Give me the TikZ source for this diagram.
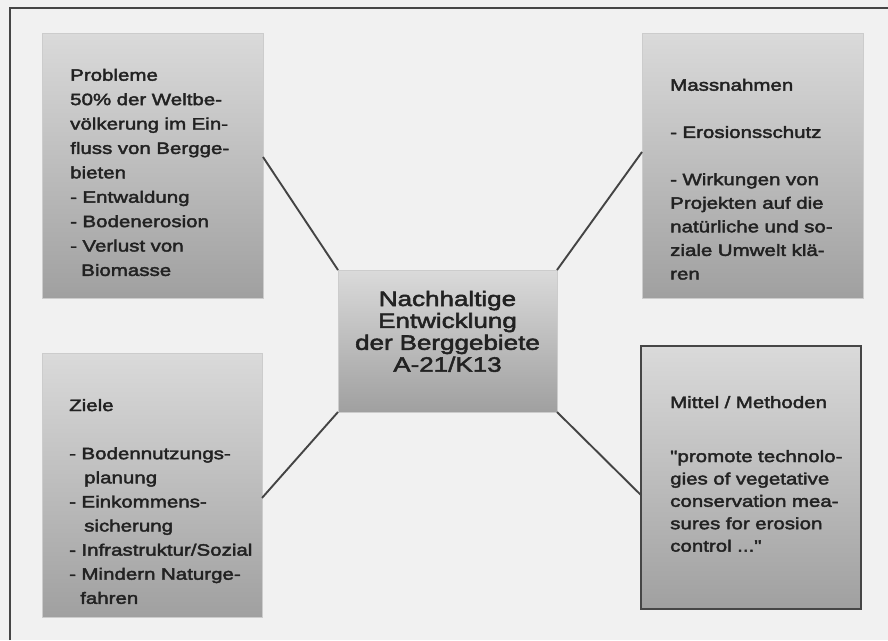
\documentclass[tikz,border=0pt]{standalone}
\usepackage{fontspec}
\newfontfamily\diafont[FakeStretch=1.25,FakeBold=2.5]{Liberation Sans}
\usetikzlibrary{calc}
\definecolor{paper}{HTML}{F1F1F1}
\definecolor{frame}{HTML}{464646}
\definecolor{ink}{HTML}{222222}
\definecolor{boxtop}{HTML}{DADADA}
\definecolor{boxbot}{HTML}{A0A0A0}
\definecolor{wire}{HTML}{444444}
\newcommand{\ind}[1]{\hspace*{#1pt}}

\begin{document}
\begin{tikzpicture}[x=1pt,y=-1pt,
   box/.style={anchor=north west,inner sep=0pt,outer sep=0pt,top color=boxtop,bottom color=boxbot,draw=gray!40,line width=0.4pt},
   txt/.style={anchor=base west,inner sep=0pt,text=ink,align=left,text width=#1},
   link/.style={draw=wire,line width=1.9pt}]
  \useasboundingbox (0,0) rectangle (888,640);
  \fill[paper] (0,0) rectangle (888,640);
  \draw[frame,line width=1.6pt] (10,640) -- (10,8) -- (888,8);
  % Boxes
  \node[box,minimum width=221pt,minimum height=265pt] (prob) at (42,33) {};
  \node[box,minimum width=221pt,minimum height=265pt] (mass) at (642,33) {};
  \node[box,minimum width=220pt,minimum height=264pt] (ziel) at (42,353) {};
  \node[box,minimum width=220pt,minimum height=263pt,draw=frame,line width=2.2pt] (mitt) at (641,346) {};
  \node[box,minimum width=219pt,minimum height=142pt] (cent) at (338,270) {};
  % Links
  \draw[link] (cent.north west) -- ($(prob.north east)!0.468!(prob.south east)$);
  \draw[link] (cent.north east) -- ($(mass.north west)!0.449!(mass.south west)$);
  \draw[link] (cent.south west) -- ($(ziel.north east)!0.549!(ziel.south east)$);
  \draw[link] (cent.south east) -- ($(mitt.north west)!0.567!(mitt.south west)$);
  % Texts
  \node[txt=190pt,font=\diafont\fontsize{16.4}{24.4}\selectfont] (probT) at (70,80.7)
    {Probleme\\ 50\% der Weltbe-\\ völkerung im Ein-\\ fluss von Bergge-\\ bieten\\
     - Entwaldung\\ - Bodenerosion\\ - Verlust von\\ \ind{11}Biomasse};
  \node[txt=190pt,font=\diafont\fontsize{16.4}{23.6}\selectfont] (massT) at (670,90.7)
    {Massnahmen\\[23.6pt] - Erosionsschutz\\[23.6pt] - Wirkungen von\\ Projekten auf die\\
     natürliche und so-\\ ziale Umwelt klä-\\ ren};
  \node[txt=190pt,font=\diafont\fontsize{16.4}{24.1}\selectfont] (zielT) at (69,411)
    {Ziele\\[24.1pt] - Bodennutzungs-\\ \ind{15}planung\\ - Einkommens-\\ \ind{15}sicherung\\
     - Infrastruktur/Sozial\\ - Mindern Naturge-\\ \ind{11}fahren};
  \node[txt=190pt,font=\diafont\fontsize{16.4}{22.4}\selectfont] (mittT) at (670,408)
    {Mittel / Methoden\\[31.6pt] "promote technolo-\\ gies of vegetative\\
     conservation mea-\\ sures for erosion\\ control ..."};
  \node[anchor=base,inner sep=0pt,text=ink,align=center,text width=215pt,
        font=\diafont\fontsize{20.8}{21.9}\selectfont] (centT) at (447.5,306)
    {Nachhaltige\\ Entwicklung\\ der Berggebiete\\ A-21/K13};
\end{tikzpicture}
\end{document}
